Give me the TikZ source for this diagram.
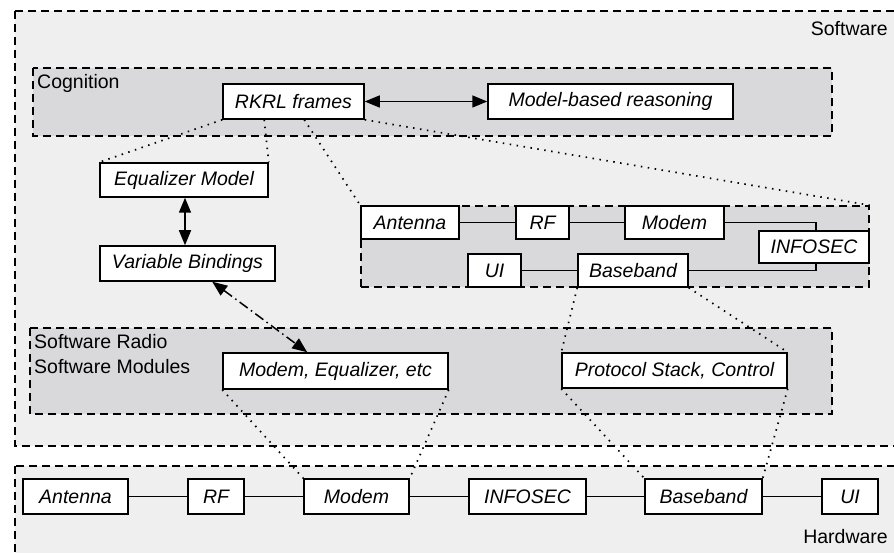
\documentclass[tikz,border=0pt]{standalone}
\usepackage{fontspec}
\setmainfont{Liberation Sans}
\usetikzlibrary{arrows.meta,calc}
\definecolor{swfill}{HTML}{EFEFEF}
\definecolor{grpfill}{HTML}{D9D9DB}
\begin{document}
\begin{tikzpicture}[x=1pt,y=-1pt,
  font=\fontsize{19.5}{23}\selectfont,
  blk/.style={draw, fill=white, line width=1.5pt, font=\fontsize{19.5}{23}\selectfont\itshape, inner sep=0pt, minimum height=35pt},
  grp/.style={draw, line width=1.5pt, dash pattern=on 8pt off 5pt},
  lbl/.style={inner sep=0pt},
  dotl/.style={line width=1.7pt, dash pattern=on 1.5pt off 5.5pt},
  wire/.style={line width=1.5pt},
  tip/.style={{Triangle[length=15pt,width=12pt]}-{Triangle[length=15pt,width=12pt]}}
]
\useasboundingbox (0,0) rectangle (894,553);
\clip (0,0) rectangle (894,553);
\fill[white] (0,0) rectangle (894,553);
% group areas
\draw[grp, fill=swfill] (15,11) rectangle (910,446);
\draw[grp, fill=swfill] (15,466) rectangle (910,570);
\draw[grp, fill=grpfill] (33,68) rectangle (832,136);
\draw[grp, fill=grpfill] (30,328) rectangle (832,414);
\node[grp, fill=grpfill, inner sep=0pt, minimum width=508pt, minimum height=81pt] (radio) at (615,246.5) {};
% labels
\node[lbl, anchor=base east] (swl) at (888,36) {Software};
\node[lbl, anchor=base west] (cogl) at (37,89) {Cognition};
\node[lbl, anchor=base west] (srl) at (34,348) {Software Radio};
\node[lbl, anchor=base west] (sml) at (34,373) {Software Modules};
\node[lbl, anchor=base east] (hwl) at (888,543) {Hardware};
% cognition
\node[blk, minimum width=141pt] (rkrl) at (293.5,101.5) {RKRL frames};
\node[blk, minimum width=245pt] (mbr) at (610.5,101.5) {Model-based reasoning};
\node[blk, minimum width=168pt, minimum height=34pt] (eqm) at (184,180) {Equalizer Model};
\node[blk, minimum width=175pt] (vb) at (187.5,263.5) {Variable Bindings};
% software modules
\node[blk, minimum width=225pt, minimum height=36pt] (meq) at (335.5,371) {Modem, Equalizer, etc};
\node[blk, minimum width=225pt] (psc) at (674.5,370.5) {Protocol Stack, Control};
% radio group
\node[blk, minimum width=98pt, minimum height=33pt] (ant1) at (410,222.5) {Antenna};
\node[blk, minimum width=53pt, minimum height=33pt] (rf1) at (542.5,222.5) {RF};
\node[blk, minimum width=99pt, minimum height=33pt] (mod1) at (674.5,222.5) {Modem};
\node[blk, minimum width=110pt, minimum height=32pt] (info1) at (814,247) {INFOSEC};
\node[blk, minimum width=53pt, minimum height=33pt] (ui1) at (494.5,270.5) {UI};
\node[blk, minimum width=110pt, minimum height=33pt] (bb1) at (633,270.5) {Baseband};
% hardware
\node[blk, minimum width=105pt] (ant2) at (75.5,496.5) {Antenna};
\node[blk, minimum width=56pt] (rf2) at (216,496.5) {RF};
\node[blk, minimum width=105pt] (mod2) at (356.5,496.5) {Modem};
\node[blk, minimum width=117pt] (info2) at (527.5,496.5) {INFOSEC};
\node[blk, minimum width=117pt] (bb2) at (703.5,496.5) {Baseband};
\node[blk, minimum width=56pt] (ui2) at (850,496.5) {UI};
% solid wires
\draw[wire] (ant1.east) -- (rf1.west);
\draw[wire] (rf1.east) -- (mod1.west);
\draw[wire] (mod1.east) -| ([xshift=2pt]info1.north);
\draw[wire] (ui1.east) -- (bb1.west);
\draw[wire] (bb1.east) -| ([xshift=2pt]info1.south);
\draw[wire] (ant2.east) -- (rf2.west);
\draw[wire] (rf2.east) -- (mod2.west);
\draw[wire] (mod2.east) -- (info2.west);
\draw[wire] (info2.east) -- (bb2.west);
\draw[wire] (bb2.east) -- (ui2.west);
% arrows
\draw[wire, tip] (rkrl.east) -- (mbr.west);
\draw[wire, tip] ([xshift=1pt]eqm.south) -- ([xshift=1pt]eqm.south |- vb.north);
\draw[wire, tip, dash pattern=on 10pt off 4pt on 1.5pt off 4pt] ([xshift=113pt]vb.south west) -- ([xshift=85pt]meq.north west);
% dotted
\draw[dotl] (rkrl.south west) -- (eqm.north west);
\draw[dotl] ([xshift=42pt]rkrl.south west) -- (eqm.north east);
\draw[dotl] ([xshift=82pt]rkrl.south west) -- (radio.north west);
\draw[dotl] (rkrl.south east) -- (radio.north east);
\draw[dotl] (bb1.south west) -- (psc.north west);
\draw[dotl] (bb1.south east) -- (psc.north east);
\draw[dotl] (meq.south west) -- (mod2.north west);
\draw[dotl] (meq.south east) -- (mod2.north east);
\draw[dotl] (psc.south west) -- (bb2.north west);
\draw[dotl] (psc.south east) -- (bb2.north east);
\end{tikzpicture}
\end{document}
